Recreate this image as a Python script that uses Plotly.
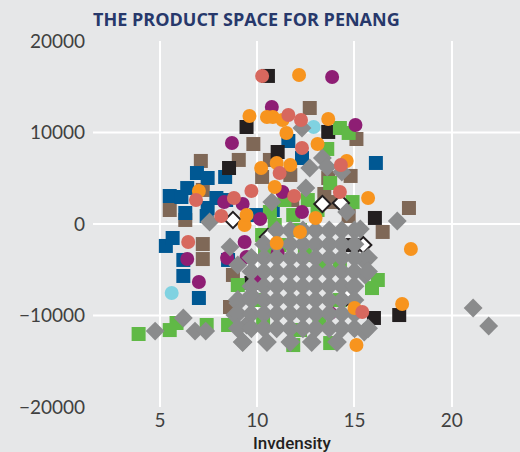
import plotly.graph_objects as go

# ---- data ----
blue_x = [16.1, 11.6, 12.3, 6.9, 7.45, 8.35, 6.4, 5.5, 6.1, 7.9, 7.45, 6.3, 7.4, 5.3, 5.65, 6.2, 6.2, 7.0, 8.5, 10.8, 9.95, 8.4]
blue_y = [6670, 9070, 7210, 5570, 5030, 5140, 3930, 3060, 2950, 2840, 1750, 1200, 870, -2400, -1530, -3930, -5680, -8090, -3930, 1530, 980, 2620]

green_x = [14.25, 14.7, 13.6, 13.75, 12.6, 14.9, 11.4, 10.65, 11.85, 13.1, 10.25, 10.4, 11.15, 12.45, 13.25, 14.25, 9.0, 8.5, 7.4, 5.5, 5.85, 3.9, 16.2, 15.9, 11.85, 13.75, 10.05, 10.3, 14.25, 13.2, 12.2, 10.9, 12.2]
green_y = [10490, 9950, 8200, 4480, 2620, 2400, 2620, 1310, 980, 1530, -1200, -2840, -2300, -3390, -4480, -4810, -6670, -11040, -11040, -11590, -10820, -12020, -6120, -7000, -13230, -13010, -8310, -10490, -8310, -10490, -11590, -110, -660]

brown_x = [12.7, 9.8, 7.1, 9.05, 15.1, 14.8, 10.25, 10.65, 11.7, 5.5, 6.3, 7.2, 7.2, 8.75, 8.6, 17.8, 16.45, 13.75, 11.8, 7.2, 14.7, 13.45, 13.65]
brown_y = [12680, 8740, 6890, 7000, 9290, 5250, 5140, 7000, 5360, 1530, 440, -2190, -3830, -5570, -9070, 1750, -870, 2400, 2620, 3720, 870, 3280, 5030]

black_x = [10.55, 9.45, 11.05, 8.55, 13.65, 16.05, 14.9, 17.3, 16.0, 9.7]
black_y = [16180, 10600, 7870, 6120, 10060, 660, -2300, -9950, -10270, -6450]

orange_x = [12.15, 9.6, 10.5, 10.8, 11.3, 13.65, 11.5, 13.1, 14.6, 15.7, 10.2, 11.0, 11.7, 10.9, 7.0, 9.35, 9.45, 17.9, 17.45, 15.0, 15.1, 11.0, 13.0, 12.2]
orange_y = [16290, 11800, 11700, 11700, 11370, 11480, 9950, 8740, 6890, 2840, 6120, 6670, 6450, 4040, 3610, -110, 980, -2730, -8740, -9180, -13230, -2080, 660, -870]

salmon_x = [10.25, 11.6, 12.25, 12.3, 14.3, 14.25, 9.7, 11.15, 11.9, 8.8, 6.85, 8.15, 6.45, 15.4]
salmon_y = [16180, 11910, 11370, 8310, 6450, 3500, 3610, 5570, 3060, 2840, 2620, 870, -1970, -9620]

purple_x = [13.85, 10.75, 8.7, 15.05, 11.3, 12.3, 8.3, 9.25, 10.15, 9.35, 8.45, 9.45, 10.1, 6.4, 7.0, 13.75, 11.05]
purple_y = [16070, 12790, 8850, 10820, 3500, 1310, 2400, 2190, 550, -1970, -3720, -3610, -5790, -3830, -6340, -9730, -3170]

lightblue_x = [12.9, 5.6]
lightblue_y = [10600, -7540]

white_x = [8.75, 13.35, 14.3, 15.45, 14.6, 10.55]
white_y = [440, 2190, 2300, -2300, -7980, -1420]

gray_x = [12.3, 7.55, 8.6, 9.0, 9.7, 9.0, 8.85, 9.45, 9.25, 6.2, 4.75, 6.8, 7.35, 13.35, 13.6, 12.7, 14.35, 12.5, 10.75, 14.6, 15.3, 17.2, 15.45, 15.55, 14.9, 15.5, 21.1, 21.9]
gray_y = [10490, 220, -2510, -4480, -7760, -8630, -9950, -11040, -12900, -10270, -11700, -11700, -11700, 7210, 6230, 6120, 5680, 3930, 2400, 1310, -550, 330, -3930, -5570, -6890, -11800, -9180, -11150]

# dense cluster of grey products
gray_cluster_x = [
    11.0, 11.7, 12.35, 13.0, 13.7, 14.35, 15.0,
    10.35, 11.0, 11.7, 12.35, 13.0, 13.7, 14.35, 15.0,
    9.7, 10.35, 11.0, 11.7, 12.35, 13.0, 13.7, 14.35, 15.0, 15.7,
    9.7, 10.35, 11.0, 11.7, 12.35, 13.0, 13.7, 14.35, 15.0, 15.7,
    9.7, 10.35, 11.0, 11.7, 12.35, 13.0, 13.7, 14.35, 15.0,
    9.0, 9.7, 10.35, 11.0, 11.7, 12.35, 13.0, 13.7, 14.35, 15.0,
    9.0, 9.7, 10.35, 11.0, 11.7, 12.35, 13.0, 13.7, 14.35, 15.0,
    9.0, 9.7, 10.35, 11.0, 11.7, 12.35, 13.0, 13.7, 14.35, 15.0, 15.7,
    9.25, 10.5, 11.7, 12.8, 14.1,
]
gray_cluster_y = (
    [-700] * 7 + [-2200] * 8 + [-3700] * 10 + [-5200] * 10 + [-6800] * 9
    + [-8300] * 10 + [-9800] * 10 + [-11400] * 11 + [-12900] * 5
)

x_ticks = [5, 10, 15, 20]
y_ticks = [-20000, -10000, 0, 10000, 20000]
y_grid = [-10000, 0, 10000]

BG = "#e6e7e8"
fig = go.Figure()


def add(xs, ys, symbol, color, size, line_color=None, line_width=0):
    fig.add_trace(go.Scatter(
        x=xs, y=ys, mode="markers",
        marker=dict(symbol=symbol, color=color, size=size, opacity=1,
                    line=dict(color=line_color or color, width=line_width)),
        hoverinfo="skip", showlegend=False))


add(brown_x, brown_y, "square", "#7f6857", 14)
add(blue_x, blue_y, "square", "#005893", 14)
add(black_x, black_y, "square", "#231f20", 14)
add(green_x, green_y, "square", "#60b946", 14)
add(white_x, white_y, "diamond", "#ffffff", 12.5, "#231f20", 2)
add(purple_x, purple_y, "circle", "#8e1e74", 14)
add(lightblue_x, lightblue_y, "circle", "#80d2e1", 14)
add(gray_x, gray_y, "diamond", "#8a8b8c", 14.5)
add(gray_cluster_x, gray_cluster_y, "diamond", "#8a8b8c", 15.2)
add(orange_x, orange_y, "circle", "#f7941e", 14)
add(salmon_x, salmon_y, "circle", "#d7685e", 14)

shapes = [dict(type="line", xref="paper", x0=0, x1=1, yref="y", y0=v, y1=v,
               line=dict(color="white", width=2), layer="below") for v in y_grid]

fig.update_layout(
    width=520, height=452,
    margin=dict(l=93, r=0, t=41, b=45),
    paper_bgcolor=BG, plot_bgcolor=BG,
    font=dict(family="Lato, sans-serif", size=19, color="#404040"),
    title=dict(text="THE PRODUCT SPACE FOR PENANG", x=93 / 520, xanchor="left",
               y=1 - 20 / 452, yanchor="middle",
               font=dict(family="Open Sans", size=18, color="#27386b", weight=700)),
    shapes=shapes,
    annotations=[dict(text="Invdensity", xref="paper", yref="paper",
                      x=(292 - 93) / 427, y=-(443 - 407) / 366, xanchor="center", yanchor="middle",
                      showarrow=False,
                      font=dict(family="Roboto", size=17, color="#231f20", weight=500))],
    xaxis=dict(range=[1.555, 23.51], tickvals=x_ticks, showgrid=True, gridcolor="white",
               gridwidth=2, zeroline=False, showline=False, ticks=""),
    yaxis=dict(range=[-20000, 20000], tickvals=y_ticks, showgrid=False, zeroline=False,
               showline=False, ticks="", tickformat="d", ticklabelstandoff=7),
)

fig.write_html("out.html", config={"displayModeBar": False},
               post_script="document.body.style.margin='0';document.body.style.overflow='hidden';")
